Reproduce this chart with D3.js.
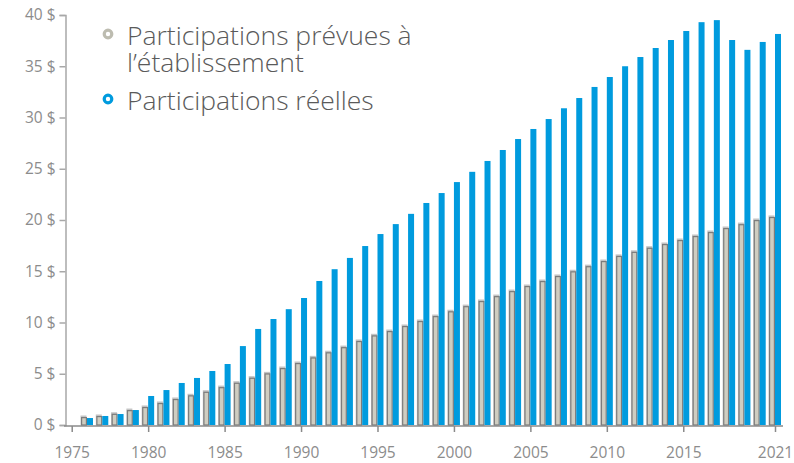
<!DOCTYPE html>
<meta charset="utf-8">
<head>
<script src="https://d3js.org/d3.v7.min.js"></script>
<style>
body { margin: 0; background: #fff; }
.axis text { font-family: "Open Sans", Lato, sans-serif; fill: #8c8c8c; }
.legend text { font-family: "Open Sans", Lato, sans-serif; fill: #5a5a5a; font-weight: 300; }
</style>
</head>
<body>
<script>
// years and values (in $)
years = d3.range(1976, 2022)
prevues = [0.78, 0.88, 1.1, 1.46, 1.76, 2.15, 2.54, 2.9, 3.25, 3.7,
  4.13, 4.62, 5.04, 5.56, 6.05, 6.6, 7.1, 7.6, 8.2, 8.75,
  9.17, 9.66, 10.15, 10.63, 11.1, 11.6, 12.1, 12.58, 13.07, 13.56,
  14.05, 14.54, 15.0, 15.5, 16.0, 16.5, 16.9, 17.3, 17.66, 18.05,
  18.44, 18.83, 19.22, 19.6, 20.0, 20.3]
reelles = [0.68, 0.88, 1.07, 1.46, 2.83, 3.41, 4.1, 4.59, 5.27, 5.95,
  7.7, 9.37, 10.34, 11.3, 12.39, 14.05, 15.2, 16.3, 17.46, 18.63,
  19.6, 20.6, 21.66, 22.63, 23.7, 24.7, 25.76, 26.83, 27.9, 28.88,
  29.85, 30.9, 31.9, 32.98, 33.95, 35.0, 35.9, 36.78, 37.56, 38.44,
  39.3, 39.5, 37.56, 36.6, 37.37, 38.15]
xTicks = [1975, 1980, 1985, 1990, 1995, 2000, 2005, 2010, 2015, 2021]
yTicks = [0, 5, 10, 15, 20, 25, 30, 35, 40]
legendLabels = [["Participations prévues à", "l\u2019établissement"], ["Participations réelles"]]
legendColors = ["#bdbcb0", "#009bde"]

width = 794
height = 463

data = years.map((yr, i) => ({year: yr, p: prevues[i], r: reelles[i]}))

x = d3.scaleLinear().domain([1976, 2021]).range([87, 775])
y = d3.scaleLinear().domain([0, 40]).range([425, 15])
bw = 6

var svg = d3.select("body").append("svg")
  .attr("width", width)
  .attr("height", height)

// y axis
svg.append("g")
  .attr("class", "axis")
  .attr("transform", "translate(65.5,0)")
  .call(d3.axisLeft(y).tickValues(yTicks).tickSize(6).tickPadding(4).tickFormat(d => d + " $"))
  .call(g => g.selectAll("text").attr("font-size", 15.5))
  .call(g => g.selectAll("line, path").attr("stroke", "#a8a8a8").attr("stroke-width", 1.5))

// x axis
svg.append("g")
  .attr("class", "axis")
  .attr("transform", "translate(0,426)")
  .call(d3.axisBottom(x).tickValues(xTicks).tickSize(6).tickPadding(15).tickFormat(d3.format("d")))
  .call(g => g.select(".domain").attr("d", "M64,0H783"))
  .call(g => g.selectAll("text").attr("font-size", 15.5))
  .call(g => g.selectAll("line, path").attr("stroke", "#8a8a8a").attr("stroke-width", 1.5))

// gray bars
var gb = svg.append("g")
gb.selectAll("rect.sh")
  .data(data)
  .join("rect")
  .attr("class", "sh")
  .attr("x", d => x(d.year) - bw - 0.5)
  .attr("y", d => y(d.p) - 1.5)
  .attr("width", bw)
  .attr("height", d => y(0) - y(d.p) + 1.5)
  .attr("fill", "#c4c4c4")
gb.selectAll("rect.bar")
  .data(data)
  .join("rect")
  .attr("class", "bar")
  .attr("x", d => x(d.year) - bw + 0.6)
  .attr("y", d => y(d.p) + 0.6)
  .attr("width", bw - 1.2)
  .attr("height", d => y(0) - y(d.p) - 0.6)
  .attr("fill", "#cfcdc1")
  .attr("stroke", "#7c7c7c")
  .attr("stroke-width", 1.2)

// blue bars
svg.append("g")
  .selectAll("rect")
  .data(data)
  .join("rect")
  .attr("x", d => x(d.year))
  .attr("y", d => y(d.r))
  .attr("width", bw)
  .attr("height", d => y(0) - y(d.r))
  .attr("fill", "#009bde")

// legend
var lg = svg.append("g").attr("class", "legend")
var ly = [34, 99]
legendLabels.forEach((lines, i) => {
  lg.append("circle")
    .attr("cx", 108)
    .attr("cy", ly[i])
    .attr("r", 3.8)
    .attr("fill", "#fff")
    .attr("stroke", legendColors[i])
    .attr("stroke-width", 3.2)
  lines.forEach((t, j) => {
    lg.append("text")
      .attr("x", 127)
      .attr("y", ly[i] + 11 + j * 27)
      .attr("font-size", 26.5)
      .text(t)
  })
})
</script>
</body>
